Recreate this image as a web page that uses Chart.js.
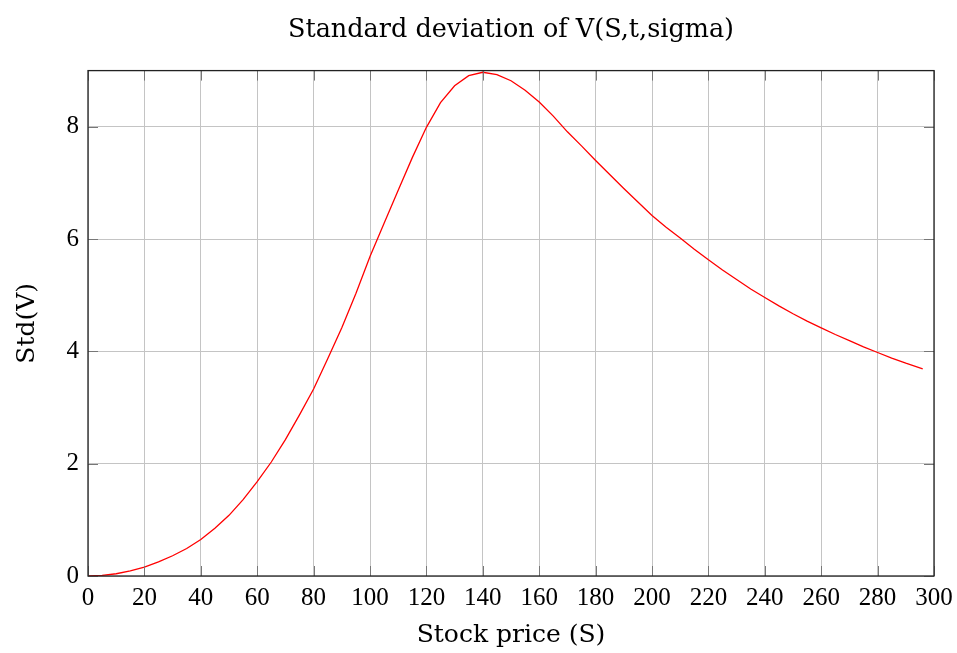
<!DOCTYPE html>
<html>
<head>
<meta charset="utf-8">
<script src="https://cdn.jsdelivr.net/npm/chart.js@4"></script>
<style>
  html, body { margin: 0; padding: 0; background: #fff; }
  #wrap { width: 957px; height: 653px; }
</style>
</head>
<body>
<div id="wrap"><canvas id="chart" width="957" height="653"></canvas></div>
<script>
  // stock price samples and the read-off std deviation
  const stockPrice = [0, 5, 10, 15, 20, 25, 30, 35, 40, 45, 50, 55, 60, 65, 70, 75, 80, 85, 90, 95,
    100, 105, 110, 115, 120, 125, 130, 135, 140, 145, 150, 155, 160, 165, 170, 175, 180, 185, 190, 195,
    200, 205, 210, 215, 220, 225, 230, 235, 240, 245, 250, 255, 260, 265, 270, 275, 280, 285, 290, 296];
  const stdV = [0.00, 0.01, 0.04, 0.09, 0.16, 0.25, 0.36, 0.49, 0.65, 0.85, 1.08, 1.36, 1.68, 2.03, 2.43, 2.87, 3.33, 3.87, 4.42, 5.03,
    5.69, 6.28, 6.87, 7.45, 7.99, 8.43, 8.73, 8.91, 8.97, 8.93, 8.82, 8.65, 8.44, 8.19, 7.91, 7.66, 7.40, 7.15, 6.90, 6.66,
    6.42, 6.21, 6.02, 5.82, 5.63, 5.45, 5.28, 5.11, 4.96, 4.81, 4.67, 4.54, 4.42, 4.30, 4.19, 4.08, 3.98, 3.88, 3.79, 3.69];

  const xTicks = [0, 20, 40, 60, 80, 100, 120, 140, 160, 180, 200, 220, 240, 260, 280, 300];
  const yTicks = [0, 2, 4, 6, 8];

  const NUM_FONT = "'Liberation Serif', serif";
  const TXT_FONT = "'DejaVu Serif', 'Liberation Serif', serif";
  const GRID = '#c4c4c4';
  const FRAME = '#222222';
  const TICK = '#777777';

  // pgfplots-like frame with inward ticks on every side
  const framePlugin = {
    id: 'frame',
    afterDraw(chart) {
      const { ctx, chartArea: a, scales } = chart;
      ctx.save();
      ctx.strokeStyle = TICK;
      ctx.lineWidth = 1;
      const len = 10;
      xTicks.forEach(v => {
        const px = Math.round(scales.x.getPixelForValue(v)) + 0.5;
        ctx.beginPath();
        ctx.moveTo(px, a.bottom); ctx.lineTo(px, a.bottom - len);
        ctx.moveTo(px, a.top); ctx.lineTo(px, a.top + len);
        ctx.stroke();
      });
      yTicks.forEach(v => {
        const py = Math.round(scales.y.getPixelForValue(v)) + 0.5;
        ctx.beginPath();
        ctx.moveTo(a.left, py); ctx.lineTo(a.left + len, py);
        ctx.moveTo(a.right, py); ctx.lineTo(a.right - len, py);
        ctx.stroke();
      });
      ctx.strokeStyle = FRAME;
      ctx.lineWidth = 1.3;
      ctx.strokeRect(a.left, a.top, a.right - a.left, a.bottom - a.top);
      ctx.restore();
    }
  };

  new Chart(document.getElementById('chart'), {
    type: 'line',
    data: {
      datasets: [{
        data: stockPrice.map((s, i) => ({ x: s, y: stdV[i] })),
        borderColor: '#ff0000',
        borderWidth: 1.3,
        pointRadius: 0,
        tension: 0,
        fill: false,
      }],
    },
    options: {
      responsive: false,
      animation: false,
      layout: { padding: { left: 0, right: 23, top: 0, bottom: 0 } },
      plugins: {
        legend: { display: false },
        tooltip: { enabled: false },
        title: {
          display: true,
          fullSize: false,
          text: 'Standard deviation of V(S,t,sigma)',
          color: '#000',
          font: { family: TXT_FONT, size: 25.5, weight: 'normal' },
          padding: { top: 15, bottom: 25 },
        },
      },
      scales: {
        x: {
          type: 'linear',
          min: 0,
          max: 300,
          afterBuildTicks: s => { s.ticks = xTicks.map(v => ({ value: v })); },
          afterFit: s => { s.height = 77; s.paddingLeft = 0; s.paddingRight = 0; },
          grid: { color: GRID, lineWidth: 1, drawTicks: false },
          border: { display: false },
          ticks: { color: '#000', font: { family: NUM_FONT, size: 25 }, padding: 7, maxRotation: 0, autoSkip: false },
          title: {
            display: true,
            text: 'Stock price (S)',
            color: '#000',
            font: { family: TXT_FONT, size: 25 },
            padding: { top: 0, bottom: 3 },
          },
        },
        y: {
          min: 0,
          max: 9,
          afterBuildTicks: s => { s.ticks = yTicks.map(v => ({ value: v })); },
          afterFit: s => { s.width = 88; s.paddingTop = 0; s.paddingBottom = 0; },
          grid: { color: GRID, lineWidth: 1, drawTicks: false },
          border: { display: false },
          ticks: { color: '#000', font: { family: NUM_FONT, size: 25 }, padding: 9 },
          title: {
            display: true,
            text: 'Std(V)',
            color: '#000',
            font: { family: TXT_FONT, size: 25 },
            padding: { top: 12, bottom: 0 },
          },
        },
      },
    },
    plugins: [framePlugin],
  });
</script>
</body>
</html>
